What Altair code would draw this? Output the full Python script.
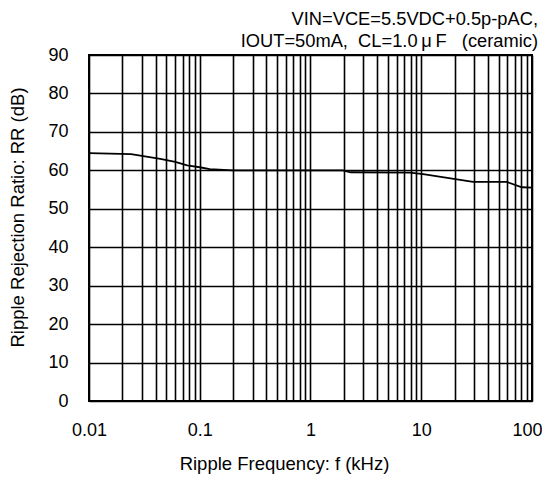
import altair as alt
import pandas as pd

freq_khz = [0.01, 0.024, 0.044, 0.06, 0.077, 0.1, 0.123, 0.2, 1, 1.96, 2.3, 7.9, 10.4, 29.4, 59, 81, 100]
rr_db = [64.5, 64.2, 63.0, 62.2, 61.3, 60.8, 60.3, 60.0, 60.0, 60.0, 59.5, 59.4, 59.0, 57.0, 57.0, 55.6, 55.5]

x_grid = [0.01, 0.02, 0.03, 0.04, 0.05, 0.06, 0.07, 0.08, 0.09,
          0.1, 0.2, 0.3, 0.4, 0.5, 0.6, 0.7, 0.8, 0.9,
          1, 2, 3, 4, 5, 6, 7, 8, 9,
          10, 20, 30, 40, 50, 60, 70, 80, 90, 100]
y_ticks = [0, 10, 20, 30, 40, 50, 60, 70, 80, 90]

title_lines = ["VIN=VCE=5.5VDC+0.5p-pAC,",
               "IOUT=50mA,\u00a0\u00a0CL=1.0\u2009\u03bc\u2009F\u00a0\u00a0\u00a0(ceramic)"]

df = pd.DataFrame({"f": freq_khz, "rr": rr_db})

FONT = "Liberation Sans"

label_expr = ("datum.value == 0.01 ? '0.01' : datum.value == 0.1 ? '0.1' : "
              "datum.value == 1 ? '1' : datum.value == 10 ? '10' : "
              "datum.value == 100 ? '100' : ''")

chart = alt.Chart(df).mark_line(color="black", strokeWidth=1.8).encode(
    x=alt.X("f:Q", scale=alt.Scale(type="log", domain=[0.01, 100], nice=False),
            axis=alt.Axis(values=x_grid, labelExpr=label_expr, labelOverlap=False,
                          grid=True, gridColor="black", gridWidth=1.6, gridOpacity=1,
                          ticks=False, domain=False, labelPadding=20, labelFontSize=18,
                          labelFont=FONT, labelColor="black", labelFlush=False,
                          labelAlign=alt.condition("datum.value == 100", alt.value("right"), alt.value("center")),
                          labelOffset=alt.condition("datum.value == 100", alt.value(10), alt.value(0)),
                          title="Ripple Frequency: f (kHz)", titleFont=FONT,
                          titleFontSize=18.5, titleFontWeight="normal", titleColor="black",
                          titlePadding=15, titleX=195, titleAlign="center")),
    y=alt.Y("rr:Q", scale=alt.Scale(domain=[0, 90], nice=False),
            axis=alt.Axis(values=y_ticks, grid=True, gridColor="black", gridWidth=1.6,
                          gridOpacity=1, ticks=False, domain=False, labelPadding=21,
                          labelFontSize=18, labelFont=FONT, labelColor="black",
                          title="Ripple Rejection Ratio: RR (dB)", titleFont=FONT,
                          titleFontSize=18.5, titleFontWeight="normal", titleColor="black",
                          titlePadding=20, titleY=162, titleAlign="center")),
).properties(
    width=443, height=346,
    title=alt.TitleParams(
        text=title_lines,
        anchor="end", font=FONT, fontSize=18.3, fontWeight="normal", color="black",
        lineHeight=22, offset=4, dx=-4, dy=9),
    autosize="none",
    padding={"left": 81, "top": 47, "right": 10, "bottom": 74},
).configure_view(stroke="black", strokeWidth=2)

chart.save("out.html", embed_options={"renderer": "svg", "actions": False})
